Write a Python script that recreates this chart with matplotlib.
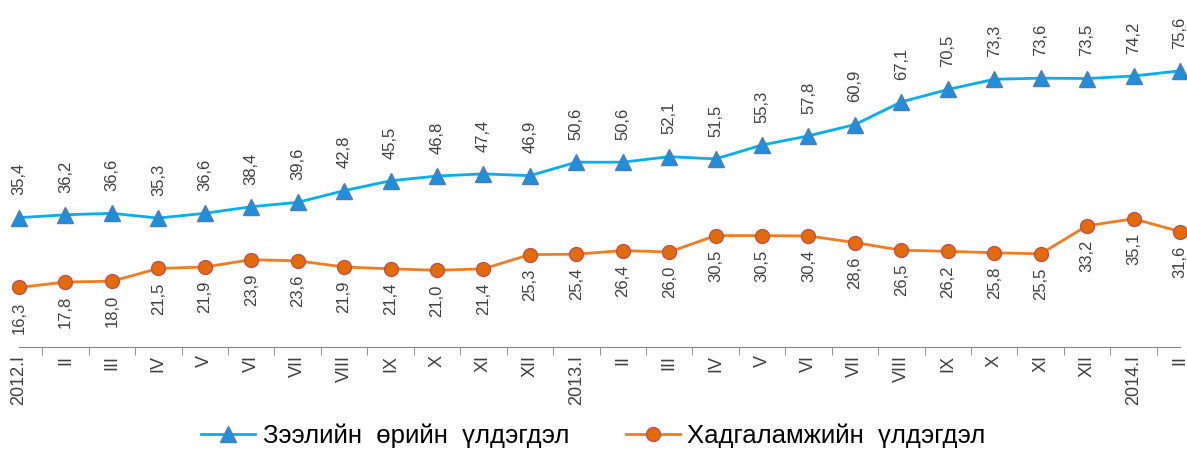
import matplotlib
matplotlib.use('Agg')
import matplotlib.pyplot as plt
import numpy as np

plt.rcParams['font.family'] = ['Liberation Sans', 'DejaVu Sans']

# Month labels: 2012.I .. 2014.II
months = ['2012.I', 'II', 'III', 'IV', 'V', 'VI', 'VII', 'VIII', 'IX', 'X', 'XI', 'XII',
          '2013.I', 'II', 'III', 'IV', 'V', 'VI', 'VII', 'VIII', 'IX', 'X', 'XI', 'XII',
          '2014.I', 'II']

loans = [35.4, 36.2, 36.6, 35.3, 36.6, 38.4, 39.6, 42.8, 45.5, 46.8, 47.4, 46.9,
         50.6, 50.6, 52.1, 51.5, 55.3, 57.8, 60.9, 67.1, 70.5, 73.3, 73.6, 73.5,
         74.2, 75.6]
savings = [16.3, 17.8, 18.0, 21.5, 21.9, 23.9, 23.6, 21.9, 21.4, 21.0, 21.4, 25.3,
           25.4, 26.4, 26.0, 30.5, 30.5, 30.4, 28.6, 26.5, 26.2, 25.8, 25.5, 33.2,
           35.1, 31.6]

loan_label = 'Зээлийн  өрийн  үлдэгдэл'
saving_label = 'Хадгаламжийн  үлдэгдэл'

fig = plt.figure(figsize=(11.87, 4.5), dpi=100)
ax = fig.add_axes([19 / 1187, 103 / 450, (1180 - 19) / 1187, 347 / 450])

x = np.arange(len(months))

ax.plot(x, loans, color='#00B0F0', linewidth=2, marker='^', markersize=11,
        markerfacecolor='#1F8FDB', markeredgecolor='#4A7EBB', markeredgewidth=1,
        label=loan_label, clip_on=False, zorder=3)
ax.plot(x, savings, color='#F47B20', linewidth=2, marker='o', markersize=10,
        markerfacecolor='#E36C09', markeredgecolor='#C0504D', markeredgewidth=1,
        label=saving_label, clip_on=False, zorder=3)

# data labels, rotated like the source
for i, v in enumerate(loans):
    ax.annotate(f'{v:.1f}'.replace('.', ','), (i, v), xytext=(0, 16),
                textcoords='offset points', rotation=90, ha='center', va='bottom',
                fontsize=12, color='#404040')
for i, v in enumerate(savings):
    ax.annotate(f'{v:.1f}'.replace('.', ','), (i, v), xytext=(0, -10),
                textcoords='offset points', rotation=90, ha='center', va='top',
                fontsize=12, color='#404040')

ax.set_xlim(0, len(months) - 1)
ax.set_ylim(0, 95)

ax.set_xticks(x)
ax.set_xticklabels(months, rotation=90, fontsize=13, color='#404040')
ax.tick_params(axis='x', which='major', length=0, pad=6)
ax.set_xticks(np.arange(0.5, len(months) - 1, 1), minor=True)
ax.tick_params(axis='x', which='minor', length=6, color='#868686', direction='out')
ax.set_yticks([])

for side in ['left', 'right', 'top']:
    ax.spines[side].set_visible(False)
ax.spines['bottom'].set_color('#868686')

leg = fig.legend(loc='lower center', bbox_to_anchor=(0.5, -0.048), ncol=2,
                 frameon=False, fontsize=18.5, handlelength=2.1, columnspacing=2.2,
                 handletextpad=0.3)
for t in leg.get_texts():
    t.set_color('#000000')

fig.savefig('out.png', dpi=100)
